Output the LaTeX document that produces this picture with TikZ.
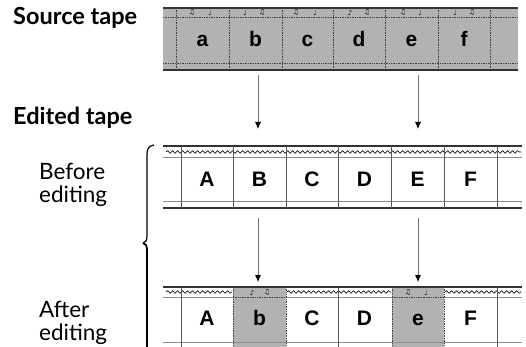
\documentclass[tikz,border=0pt]{standalone}
\usepackage{fontspec}
\setmainfont{Lato}
\newfontfamily\cellfont{Liberation Sans}
\newfontfamily\notefont{DejaVu Sans}
\usetikzlibrary{decorations.pathmorphing,arrows.meta}
\tikzset{
  heading/.style={font=\bfseries\fontsize{23.5}{24}\selectfont, anchor=base west, inner sep=0pt},
  sidelabel/.style={font=\fontsize{22.5}{23}\selectfont, anchor=base west, inner sep=0pt, align=left},
  cellletter/.style={font=\cellfont\bfseries\fontsize{21}{21}\selectfont, inner sep=0pt, anchor=base},
  note/.style={font=\notefont\fontsize{7}{7}\selectfont, inner sep=0pt},
  tapefill/.style={fill=black!30},
  darkrule/.style={draw=black!80, line width=1.2pt},
  lightrule/.style={draw=black!45, line width=0.8pt},
  dotrule/.style={draw=black!75, densely dotted, line width=0.7pt},
  divider/.style={draw=black!65, line width=0.8pt},
  wave/.style={draw=black, line width=0.6pt, decorate, decoration={snake, segment length=5pt, amplitude=1.3pt}},
  feed/.style={draw=black!55, line width=0.8pt, -{Latex[length=7pt,width=6pt,black]}},
  bracepen/.style={draw=black, line width=1.2pt},
}
\begin{document}
\begin{tikzpicture}[x=1pt,y=-1pt]
\useasboundingbox (0,0) rectangle (526,347);
\clip (0,0) rectangle (526,347);

% headings
\node[heading] (hsrc) at (13,25) {Source tape};
\node[heading] (hed) at (13,125) {Edited tape};
\node[sidelabel] (lbefore) at (39,202) {Before\\editing};
\node[sidelabel] (lafter) at (39,340) {After\\editing};

% ---------- source tape ----------
\fill[tapefill] (163,8) rectangle (518,70);
\draw[darkrule] (163,8) -- (518,8);
\draw[dotrule] (163,17) -- (518,17);
\draw[dotrule] (163,63) -- (518,63);
\draw[darkrule, line width=1.8pt] (163,70) -- (518,70);
\foreach \x in {176,229,282,333,385,438,490}
  \draw[dotrule] (\x,8) -- (\x,70);
\foreach \x/\l [count=\i] in {202.5/a,255.5/b,307.5/c,359/d,411.5/e,464/f}
  \node[cellletter] (s\i) at (\x,47) {\l};
\foreach \x/\g [count=\i] in {192/♫,210/♩,245/♩,262/♫,296/♫,315/♩,350/♪,367/♫,403/♫,420/♩,455/♩,472/♫}
  \node[note] (sn\i) at (\x,12.5) {\g};

% ---------- edited tape, before ----------
\draw[darkrule] (163,146) -- (522,146);
\draw[lightrule] (163,157) -- (522,157);
\draw[wave] (166,152) -- (521,152);
\draw[lightrule] (163,201) -- (522,201);
\draw[darkrule] (163,208) -- (522,208);
\foreach \x in {181,233,286,338,391,444,497}
  \draw[divider] (\x,146) -- (\x,208);
\foreach \x/\l [count=\i] in {207/A,259.5/B,312/C,364.5/D,417.5/E,470.5/F}
  \node[cellletter] (b\i) at (\x,186) {\l};

% ---------- edited tape, after ----------
\fill[tapefill] (233,287) rectangle (286,350);
\fill[tapefill] (392,287) rectangle (444,350);
\draw[darkrule] (163,287) -- (522,287);
\draw[lightrule] (163,297) -- (233,297);
\draw[lightrule] (286,297) -- (392,297);
\draw[lightrule] (444,297) -- (522,297);
\draw[dotrule] (233,297) -- (286,297);
\draw[dotrule] (392,297) -- (444,297);
\draw[wave] (166,292) -- (232,292);
\draw[wave] (287,292) -- (391,292);
\draw[wave] (445,292) -- (521,292);
\draw[lightrule] (163,342) -- (522,342);
\foreach \x in {181,338,497}
  \draw[divider] (\x,287) -- (\x,350);
\foreach \x in {233,286,392,444}
  \draw[dotrule] (\x,287) -- (\x,350);
\foreach \x/\l [count=\i] in {207/A,259.5/b,312/C,364.5/D,418/e,470.5/F}
  \node[cellletter] (a\i) at (\x,325) {\l};
\foreach \x/\g [count=\i] in {252/♪,267/♫,408/♫,426/♩}
  \node[note] (an\i) at (\x,292.5) {\g};

% ---------- feed arrows ----------
\coordinate (fb1) at (258,75);
\coordinate (tb1) at (258,129);
\coordinate (fe1) at (418,75);
\coordinate (te1) at (418,129);
\coordinate (fb2) at (258,218);
\coordinate (tb2) at (258,282);
\coordinate (fe2) at (418,218);
\coordinate (te2) at (418,282);
\draw[feed] (fb1) -- (tb1);
\draw[feed] (fe1) -- (te1);
\draw[feed] (fb2) -- (tb2);
\draw[feed] (fe2) -- (te2);

% ---------- brace ----------
\draw[bracepen] (154,145) .. controls (149,146) and (147,148.5) .. (147,154)
  -- (147,236) .. controls (147,240.5) and (145.5,242.5) .. (143,243);
\draw[bracepen, line width=1.8pt] (143,243) .. controls (145.5,243.5) and (147,245.5) .. (147,250)
  -- (147,352);
\end{tikzpicture}
\end{document}
